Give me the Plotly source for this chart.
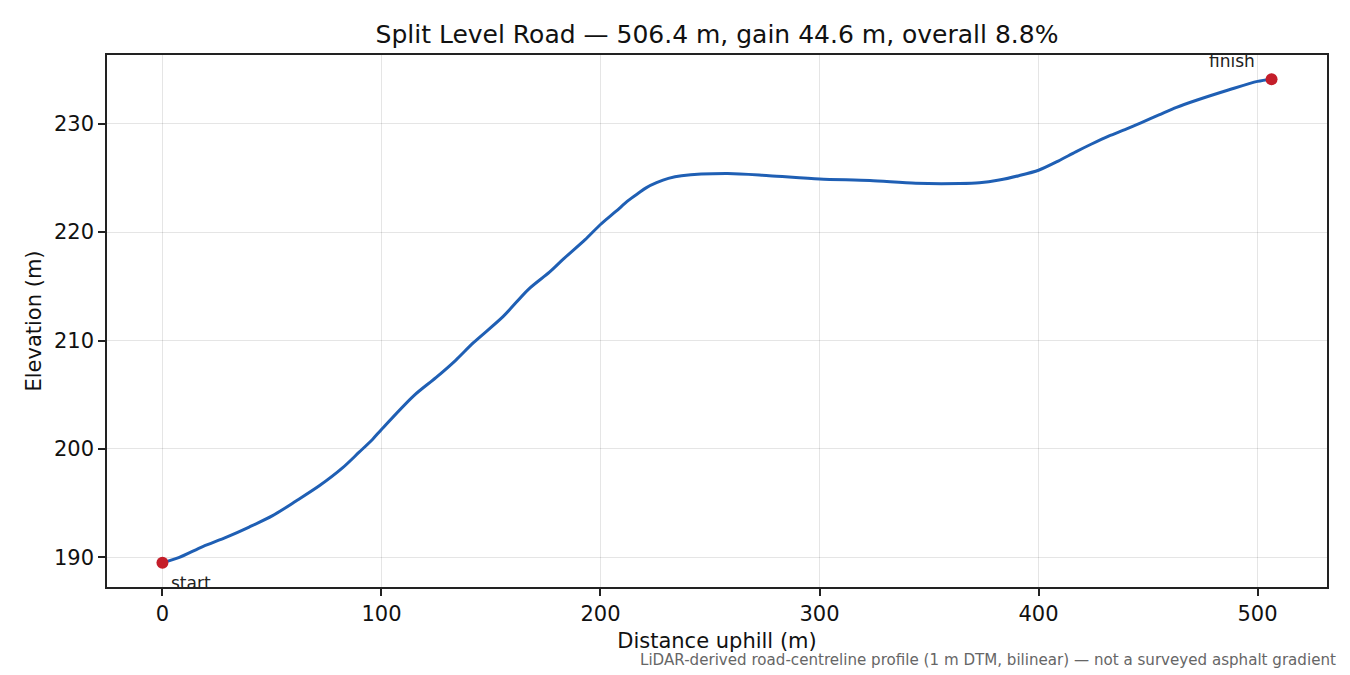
import plotly.graph_objects as go

# profile (distance uphill, elevation)
distance_m = [0, 7.7, 18.4, 29, 39.6, 50.3, 61, 71.6, 82.2, 89.8, 96, 100,
              114.7, 125, 134, 142, 155.5, 167, 176.7, 183, 193, 200, 207,
              212.6, 217.4, 221, 225.6, 231, 237, 258, 277, 300, 323, 344,
              364, 373, 382, 391, 400, 409, 417, 424, 432, 440, 447, 455,
              463, 472.8, 486.7, 500, 506.4]
elevation_m = [189.5, 190.0, 191.0, 191.85, 192.8, 193.85, 195.2, 196.6, 198.25,
               199.7, 200.9, 201.8, 204.9, 206.6, 208.2, 209.8, 212.2, 214.7,
               216.3, 217.5, 219.3, 220.7, 221.9, 222.9, 223.6, 224.1, 224.55,
               224.95, 225.2, 225.4, 225.2, 224.9, 224.75, 224.5, 224.48, 224.55,
               224.8, 225.2, 225.7, 226.55, 227.4, 228.1, 228.85, 229.5, 230.1,
               230.8, 231.5, 232.2, 233.1, 233.9, 234.1]

x_ticks = [0, 100, 200, 300, 400, 500]
y_ticks = [190, 200, 210, 220, 230]

title_text = "Split Level Road — 506.4 m, gain 44.6 m, overall 8.8%"
note_text = "LiDAR-derived road-centreline profile (1 m DTM, bilinear) — not a surveyed asphalt gradient"

FONT = "DejaVu Sans"

# page body adds an 8px margin, so the figure is a bit smaller than the window
W, H = 1342, 667
L, R, T, B = 99, 23, 47, 88
plot_w = W - L - R
plot_h = H - T - B

# 5% padding like matplotlib
xspan = distance_m[-1] - distance_m[0]
yspan = max(elevation_m) - min(elevation_m)
x_range = [distance_m[0] - 0.05 * xspan, distance_m[-1] + 0.05 * xspan]
y_range = [min(elevation_m) - 0.05 * yspan, max(elevation_m) + 0.05 * yspan]

fig = go.Figure()

fig.add_trace(go.Scatter(x=distance_m, y=elevation_m, mode='lines',
                         line=dict(color='#1f5fb4', width=3, shape='spline', smoothing=0.8),
                         hoverinfo='skip', showlegend=False))

# start / finish markers
fig.add_trace(go.Scatter(x=[distance_m[0], distance_m[-1]],
                         y=[elevation_m[0], elevation_m[-1]],
                         mode='markers',
                         marker=dict(color='#c41e2a', size=12),
                         showlegend=False))

fig.add_annotation(x=distance_m[0], y=elevation_m[0], text="start", showarrow=False,
                   xanchor='left', yanchor='middle', xshift=7, yshift=-20,
                   font=dict(family=FONT, size=17, color='#222'))
fig.add_annotation(x=distance_m[-1], y=elevation_m[-1], text="finish", showarrow=False,
                   xanchor='right', yanchor='middle', xshift=-15, yshift=18,
                   font=dict(family=FONT, size=17, color='#222'))

# footnote (bottom right, in paper coords measured from the plot area)
fig.add_annotation(x=1 + 11 / plot_w, y=-73 / plot_h, xref='paper', yref='paper',
                   text=note_text, showarrow=False, xanchor='right', yanchor='middle',
                   font=dict(family=FONT, size=15.1, color='#666'))

axis_common = dict(showline=True, linecolor='#222', linewidth=1.6, mirror=True,
                   ticks='outside', ticklen=7, tickwidth=1.6, tickcolor='#222',
                   showgrid=True, gridcolor='rgba(0,0,0,0.1)', gridwidth=1.4,
                   zeroline=False, tickfont=dict(family=FONT, size=21, color='#111'))

fig.update_xaxes(range=x_range, tickvals=x_ticks,
                 title=dict(text="Distance uphill (m)", standoff=8,
                            font=dict(family=FONT, size=21, color='#111')),
                 **axis_common)
fig.update_yaxes(range=y_range, tickvals=y_ticks,
                 title=dict(text="Elevation (m)", standoff=7,
                            font=dict(family=FONT, size=21, color='#111')),
                 **axis_common)

fig.update_layout(
    width=W, height=H,
    margin=dict(l=L, r=R, t=T, b=B, autoexpand=False),
    paper_bgcolor='white', plot_bgcolor='white',
    title=dict(text=title_text, x=0.5, xref='paper', y=1 - 26 / H, yanchor='middle',
               font=dict(family=FONT, size=25, color='#111')),
    font=dict(family=FONT),
)

fig.write_html("out.html")
